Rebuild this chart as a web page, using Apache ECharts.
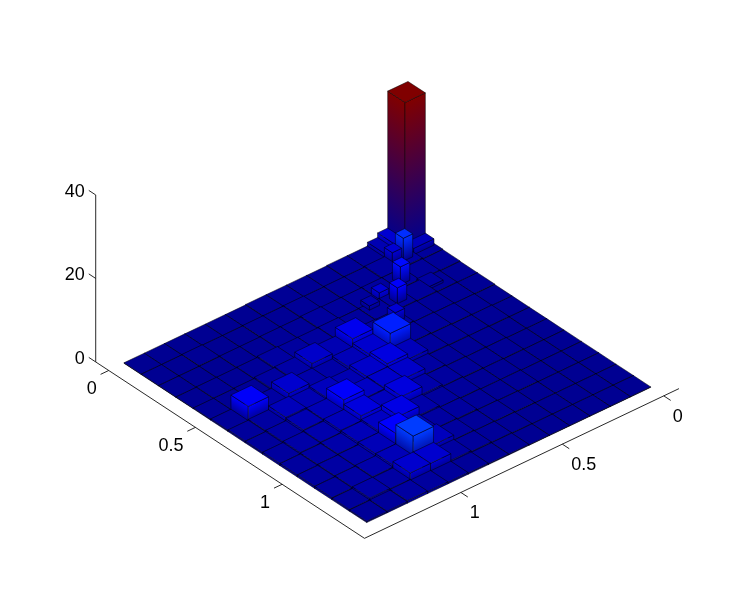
<!DOCTYPE html>
<html><head><meta charset="utf-8">
<script src="https://cdn.jsdelivr.net/npm/echarts@6/dist/echarts.min.js"></script>
<style>html,body{margin:0;padding:0;background:#fff}#c{width:747px;height:604px}</style>
</head><body><div id="c"></div>
<script>
// Data
const cellEdges = [0,.1,.2,.3,.4,.5,.6,.7,.8,.9,1,1.1,1.2,1.3,1.4];
const heightRows = [
[35.1,.4,.3,.3,.2,.2,.2,.2,.1,.1,.1,.1,.1,.1],
[.4,.6,.5,.3,.3,.2,.3,.2,.2,.1,.1,.2,.1,.1],
[.3,.4,.5,.5,.4,.4,.5,.3,.3,.2,.2,.1,.1,.1],
[.2,.3,.4,.5,.5,.4,.6,.5,.5,.6,.3,.2,.2,.1],
[.2,.2,.3,.4,.6,.7,3.3,1.2,2,.8,.6,.3,.2,.2],
[.1,.2,.3,.4,.5,5,2.2,1.4,.8,.9,2.2,.7,3.7,.3],
[.1,.2,.2,.3,.4,1.5,2.8,2,1.2,1.6,1.2,1.5,.6,.4],
[.1,.1,.2,.2,.3,.6,2,2,1.8,3.8,1.4,1.2,.7,.4],
[.1,.1,.2,.2,.3,.5,.9,2.7,1.6,2.7,1.5,1,.8,.5],
[.1,.1,.1,.2,.2,.4,.5,.9,3,1.8,1.4,.9,.7,.5],
[.1,.1,.1,.2,.2,.3,.5,.6,1.2,3.9,1.4,.8,.7,.5],
[.1,.1,.1,.1,.2,.3,.3,.5,1.6,6,1.4,.9,.7,.5],
[.1,.1,.1,.1,.1,.2,.3,.4,.6,2.2,2.2,.7,.8,.4],
[.1,.1,.1,.1,.1,.1,.2,.2,.3,.4,.5,.6,.4,.3]
];
// narrow bars: centre a, centre b, width a, width b, height
const narrowA = [.05,.05,.125,.135,.116,.248,.337,.289,.429,.328,.30];
const narrowB = [.125,.175,.05,.135,.173,.246,.337,.385,.426,.172,.443];
const narrowWA = [.1,.1,.05,.046,.046,.046,.046,.046,.046,.07,.05];
const narrowWB = [.05,.05,.1,.046,.046,.046,.046,.046,.046,.07,.05];
const narrowH = [2.3,1.2,1.5,5.5,2.4,4.3,3.8,2.4,2.4,.6,1];
const horizTicks = [0,.5,1];
const horizLabels = ['0','0.5','1'];
const zTicks = [0,20,40];
const zLabels = ['0','20','40'];
const axisLow = -0.075, axisHigh = 1.475;

// View of the 3D box on the page plane
const view = {ox:408, oy:228, ax:173.4, ay:113.8, bx:-202.9, by:96.6, z:-4.175};
function project(a,b,z){ return [view.ox+a*view.ax+b*view.bx, view.oy+a*view.ay+b*view.by+(z||0)*view.z]; }

const zMax = 35.1;
function jet(v){
  v=Math.max(0,Math.min(1,v));
  const t=1/64+v*63/64;
  const f=(c)=>Math.round(255*Math.max(0,Math.min(1,1.5-Math.abs(4*t-c))));
  return [f(3),f(2),f(1)];
}
const css=(c)=>'rgb('+c[0]+','+c[1]+','+c[2]+')';

const bars=[];
heightRows.forEach((row,i)=>row.forEach((h,j)=>bars.push([cellEdges[i],cellEdges[i+1],cellEdges[j],cellEdges[j+1],h,(i+j+1)*.1])));
narrowA.forEach((a,k)=>{
  const ca=Math.floor(a*10),cb=Math.floor(narrowB[k]*10);
  bars.push([a-narrowWA[k]/2,a+narrowWA[k]/2,narrowB[k]-narrowWB[k]/2,narrowB[k]+narrowWB[k]/2,narrowH[k],(ca+cb+1)*.1+.01+(a+narrowB[k])*.001]);
});
bars.sort((p,q)=>p[5]-q[5]);

function sideFill(T,E,hpx,top,base){
  // gradient across the slanted parallelogram: constant along its top edge
  let ex=E[0]-T[0], ey=E[1]-T[1]; const L=Math.hypot(ex,ey)||1; ex/=L; ey/=L;
  const nx=-ey, ny=ex, d=hpx*ny;
  return new echarts.graphic.LinearGradient(T[0],T[1],T[0]+nx*d,T[1]+ny*d,
    [{offset:0,color:top},{offset:1,color:base}],true);
}
function renderBar(params,api){
  const a0=api.value(0),a1=api.value(1),b0=api.value(2),b1=api.value(3),h=api.value(4);
  const pt=(a,b,z)=>api.coord(project(a,b,z));
  const top=css(jet(h/zMax)), base=css(jet(0));
  const F=pt(a1,b1,h),L=pt(a0,b1,h),R=pt(a1,b0,h),B=pt(a0,b0,h);
  const F0=pt(a1,b1,0),L0=pt(a0,b1,0),R0=pt(a1,b0,0);
  const hpx=F0[1]-F[1];
  const line={stroke:'#000',lineWidth:.5};
  return {type:'group',children:[
    {type:'polygon',shape:{points:[L,F,F0,L0]},style:Object.assign({fill:sideFill(L,F,hpx,top,base)},line)},
    {type:'polygon',shape:{points:[F,R,R0,F0]},style:Object.assign({fill:sideFill(F,R,hpx,top,base)},line)},
    {type:'polygon',shape:{points:[B,R,F,L]},style:Object.assign({fill:top},line)}
  ]};
}
const axisData=[0];
function renderAxes(params,api){
  const pt=(a,b,z)=>api.coord(project(a,b,z));
  const kids=[];
  const ln=(p,q)=>kids.push({type:'line',shape:{x1:p[0],y1:p[1],x2:q[0],y2:q[1]},style:{stroke:'#111',lineWidth:.9}});
  const tx=(s,p,dx,dy,al)=>kids.push({type:'text',style:{text:s,x:p[0]+dx,y:p[1]+dy,fill:'#000',font:'18px "Liberation Sans"',textAlign:al,textVerticalAlign:'middle'}});
  const lo=axisLow,hi=axisHigh,tk=.04;
  ln(pt(lo,hi,0),pt(hi,hi,0));
  ln(pt(hi,hi,0),pt(hi,lo,0));
  ln(pt(lo,hi,0),pt(lo,hi,40));
  horizTicks.forEach((t,k)=>{
    const p=pt(t,hi,0); ln(p,pt(t,hi+tk,0)); tx(horizLabels[k],p,-12,19,'right');
    const q=pt(hi,t,0); ln(q,pt(hi+tk,t,0)); tx(horizLabels[k],q,9,21,'left');
  });
  zTicks.forEach((t,k)=>{
    const p=pt(lo,hi,t); ln(p,pt(lo-tk,hi,t)); tx(zLabels[k],p,-11,-3,'right');
  });
  return {type:'group',children:kids};
}
const chart=echarts.init(document.getElementById('c'),null,{renderer:'canvas'});
chart.setOption({
  animation:false,
  backgroundColor:'#fff',
  grid:{left:0,right:0,top:0,bottom:0},
  xAxis:{type:'value',min:0,max:747,show:false},
  yAxis:{type:'value',min:0,max:604,inverse:true,show:false},
  series:[
    {type:'custom',coordinateSystem:'cartesian2d',clip:false,silent:true,data:axisData.map(v=>[v,v]),renderItem:renderAxes,z:1},
    {type:'custom',coordinateSystem:'cartesian2d',clip:false,silent:true,data:bars,renderItem:renderBar,z:2,
     encode:{x:0,y:1}}
  ]
});
</script></body></html>
